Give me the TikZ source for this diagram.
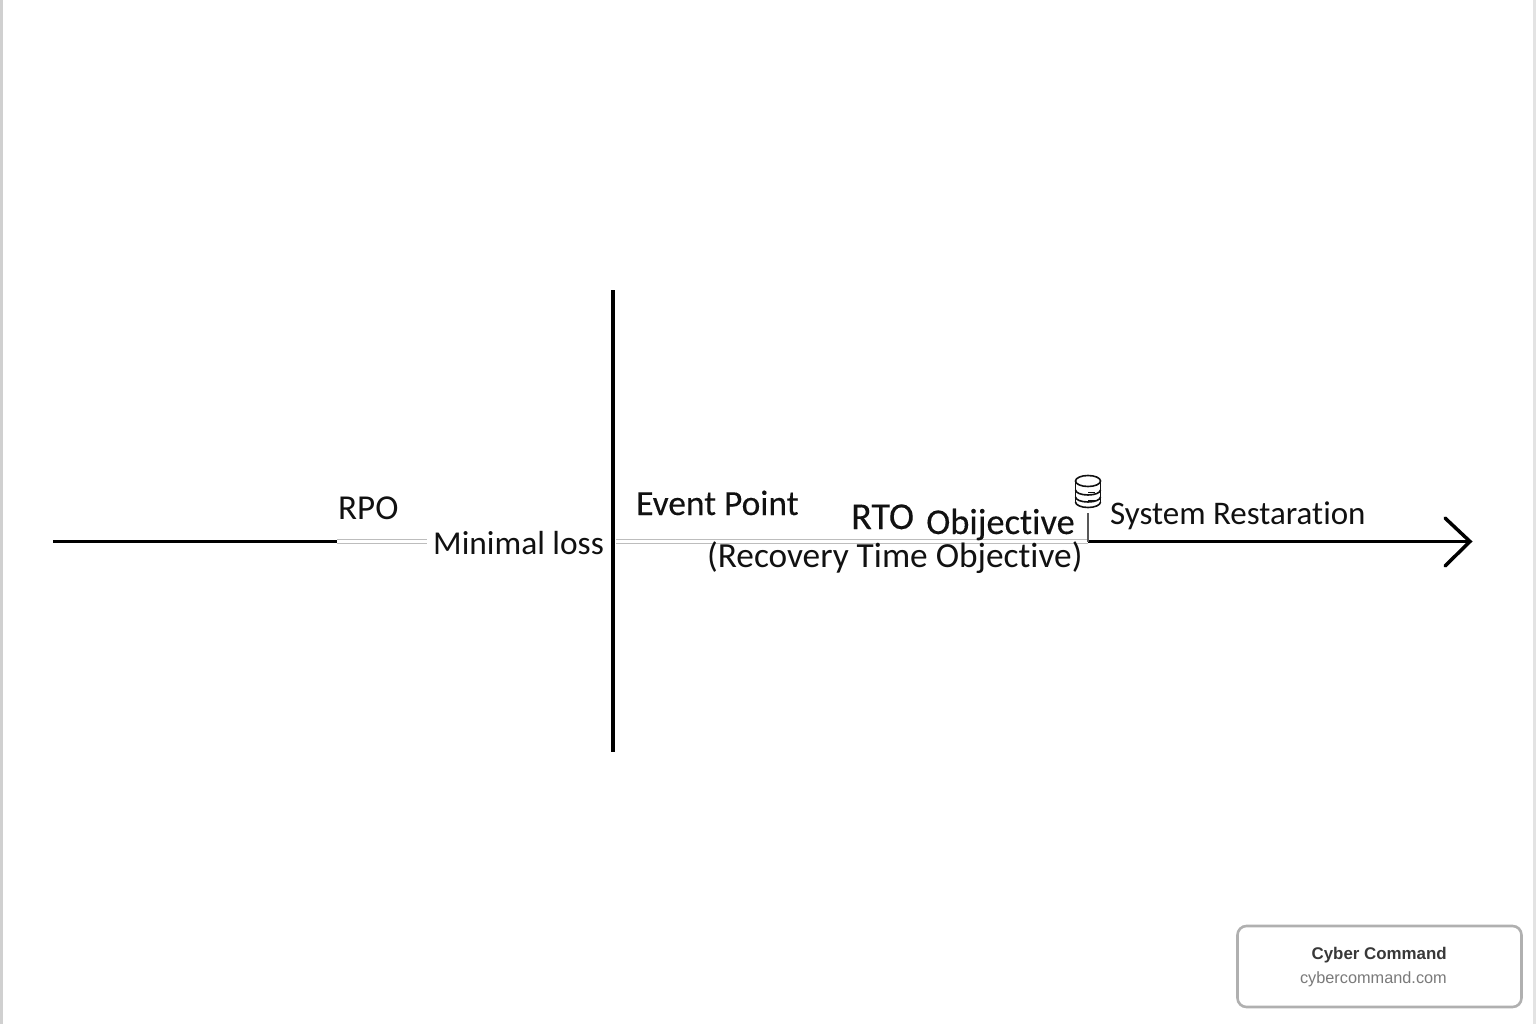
\documentclass[tikz,border=0pt]{standalone}
\usepackage{fontspec}
\setmainfont[Ligatures=NoCommon]{Carlito}
\newfontfamily\semifont[FakeBold=0.2,Ligatures=NoCommon]{Carlito}
\newfontfamily\cardfont{Liberation Sans}
\definecolor{inkc}{HTML}{111111}
\definecolor{ruleg}{HTML}{BDBDBD}
\definecolor{edgeg}{HTML}{D0D0D0}
\definecolor{cardg}{HTML}{B0B0B0}
\tikzset{
  x=1pt,y=-1pt,
  axisline/.style={draw=black,line width=3.5pt},
  softline/.style={draw=ruleg,line width=1.8pt},
  lbl/.style={inner sep=0pt,text=inkc,anchor=base west,font=\fontsize{#1}{#1}\selectfont},
  semilbl/.style={inner sep=0pt,text=inkc,anchor=base west,font=\semifont\fontsize{#1}{#1}\selectfont},
  iconline/.style={draw=inkc,line width=1.6pt},
}
\begin{document}
\begin{tikzpicture}
\useasboundingbox (0,0) rectangle (1536,1024);
\fill[white] (0,0) rectangle (1536,1024);
\fill[edgeg] (0,0) rectangle (2.5,1024);
\fill[edgeg!60] (1533,0) rectangle (1536,1024);
% named points
\coordinate (startL) at (53,541.5);
\coordinate (rpoEnd) at (337,541.5);
\coordinate (softA) at (427,541.5);
\coordinate (softB) at (616,541.5);
\coordinate (sysPt) at (1088,541.5);
\coordinate (arrowTip) at (1470,541.5);
\coordinate (eventTop) at (613,290);
\coordinate (eventBot) at (613,752);
\coordinate (tickTop) at (1088,513);
\coordinate (headU) at (1445,518);
\coordinate (headD) at (1445,566);
% soft double rules
\draw[softline] ([yshift=-2pt]rpoEnd) -- ([yshift=-2pt]softA);
\draw[softline] ([yshift=2pt]rpoEnd) -- ([yshift=2pt]softA);
\draw[softline] ([yshift=-2pt]softB) -- ([yshift=-2pt]sysPt);
\draw[softline] ([yshift=2pt]softB) -- ([yshift=2pt]sysPt);
% main lines
\draw[axisline] (startL) -- (rpoEnd);
\draw[axisline] (eventTop) -- (eventBot);
\draw[axisline] (sysPt) -- (arrowTip);
\draw[axisline,line cap=round,line join=miter] (headU) -- (arrowTip) -- (headD);
\draw[draw=inkc!70,line width=2pt] (tickTop) -- (sysPt);
% labels
\node[lbl=35] (rpo) at (338,519) {RPO};
\node[lbl=33.4] (loss) at (433,554) {Minimal loss};
\node[semilbl=35.4] (event) at (636,515) {Event Point};
\node[semilbl=38] (rto) at (851,529) {RTO};
\node[semilbl=36.4] (obj) at (926,534) {Obijective};
\node[lbl=35.3] (rec) at (707,567) {(Recovery Time Objective)};
\node[lbl=33] (sys) at (1110,524) {System Restaration};
% database icon
\begin{scope}[iconline]
\draw (1075.5,481) -- (1075.5,502);
\draw (1100.5,481) -- (1100.5,502);
\draw (1088,481) ellipse [x radius=12.5,y radius=5.5];
\draw (1075.5,490) arc[start angle=180,end angle=360,x radius=12.5,y radius=-5];
\draw (1075.5,497) arc[start angle=180,end angle=360,x radius=12.5,y radius=-5];
\draw (1075.5,502) arc[start angle=180,end angle=360,x radius=12.5,y radius=-5.5];
\draw (1088,492.5) -- (1095,492.5);
\draw (1088,501) -- (1095,501);
\end{scope}
% card
\draw[draw=cardg,line width=2.6pt,fill=white,rounded corners=9pt] (1237.5,926) rectangle (1521.5,1007);
\node[inner sep=0pt,anchor=base east,text=black!78] (cardT) at (1447,959.5) {\cardfont\bfseries\fontsize{16.9}{16.9}\selectfont Cyber Command};
\node[inner sep=0pt,anchor=base east,text=black!52] (cardU) at (1447,983) {\cardfont\fontsize{16.3}{16.3}\selectfont cybercommand.com};
\end{tikzpicture}
\end{document}
